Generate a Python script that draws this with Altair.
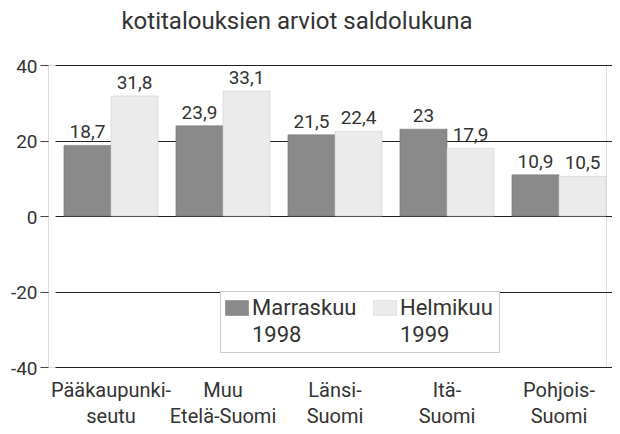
import altair as alt
import pandas as pd

regions = ["Pääkaupunki-\nseutu", "Muu\nEtelä-Suomi", "Länsi-\nSuomi", "Itä-\nSuomi", "Pohjois-\nSuomi"]
series = ["Marraskuu\n1998", "Helmikuu\n1999"]
marraskuu_1998 = [18.7, 23.9, 21.5, 23.0, 10.9]
helmikuu_1999 = [31.8, 33.1, 22.4, 17.9, 10.5]
y_ticks = [-40, -20, 0, 20, 40]
title_text = "kotitalouksien arviot saldolukuna"

rows = []
for i, r in enumerate(regions):
    rows.append({"region": r, "series": series[0], "value": marraskuu_1998[i]})
    rows.append({"region": r, "series": series[1], "value": helmikuu_1999[i]})
df = pd.DataFrame(rows)

FONT = "Roboto, sans-serif"
TXT = "#333333"

x_enc = alt.X("region:N", sort=regions,
              scale=alt.Scale(range=[7, 567], paddingInner=0.16, paddingOuter=0.08),
              axis=alt.Axis(title=None, labelAngle=0, ticks=False, domain=False,
                            labelExpr="split(datum.label, '\\n')",
                            labelFont=FONT, labelFontSize=20, labelColor=TXT,
                            labelPadding=6, labelLineHeight=26))
xo_enc = alt.XOffset("series:N", sort=series)

base = alt.Chart(df)

bars = base.mark_bar(strokeWidth=0.6).encode(
    x=x_enc,
    xOffset=xo_enc,
    y=alt.Y("value:Q", scale=alt.Scale(domain=[-40, 40], nice=False),
            axis=alt.Axis(title=None, values=y_ticks, grid=True, gridColor="#222222",
                          gridWidth=1, tickColor="#444444", tickSize=8, domain=False,
                          labelExpr="toString(datum.value)", labelBaseline="alphabetic",
                          labelFont=FONT, labelFontSize=19, labelColor=TXT, labelPadding=3)),
    fill=alt.Fill("series:N", sort=series,
                  scale=alt.Scale(domain=series, range=["#8a8a8a", "#ebebeb"]),
                  legend=alt.Legend(title=None, orient="none", legendX=172, legendY=226,
                                    direction="horizontal",
                                    symbolType="M-1.28,-0.83H1.28V0.83H-1.28Z",
                                    symbolSize=324, symbolStrokeColor="#bbbbbb",
                                    symbolStrokeWidth=0.5,
                                    labelExpr="split(datum.label, '\\n')",
                                    labelFont=FONT, labelFontSize=22, labelColor=TXT,
                                    labelBaseline="alphabetic",
                                    labelOffset=4, columnPadding=15,
                                    padding=6, fillColor="white",
                                    strokeColor="#cccccc", labelLimit=200)),
    stroke=alt.Stroke("series:N", sort=series,
                      scale=alt.Scale(domain=series, range=["#777777", "#d0d0d0"]),
                      legend=None),
)

labels = base.transform_calculate(
    lbl="replace(toString(datum.value), '.', ',')"
).mark_text(baseline="alphabetic", dy=-7, font=FONT, fontSize=19, color=TXT).encode(
    x=x_enc,
    xOffset=xo_enc,
    y="value:Q",
    text="lbl:N",
)

chart = alt.layer(bars, labels).properties(
    width=558, height=302,
    title=alt.Title(title_text, anchor="middle", frame="group", dx=-30, offset=23,
                    font=FONT, fontSize=24, fontWeight="normal", color=TXT),
    autosize=alt.AutoSizeParams(type="none"),
    padding={"left": 40, "top": 57, "right": 6, "bottom": 60},
).configure_view(stroke="#333333", strokeWidth=1).configure(
    style={"guide-label": {"lineHeight": 27, "dy": 7}}
)

chart.save("out.html", embed_options={"renderer": "svg", "actions": False})
